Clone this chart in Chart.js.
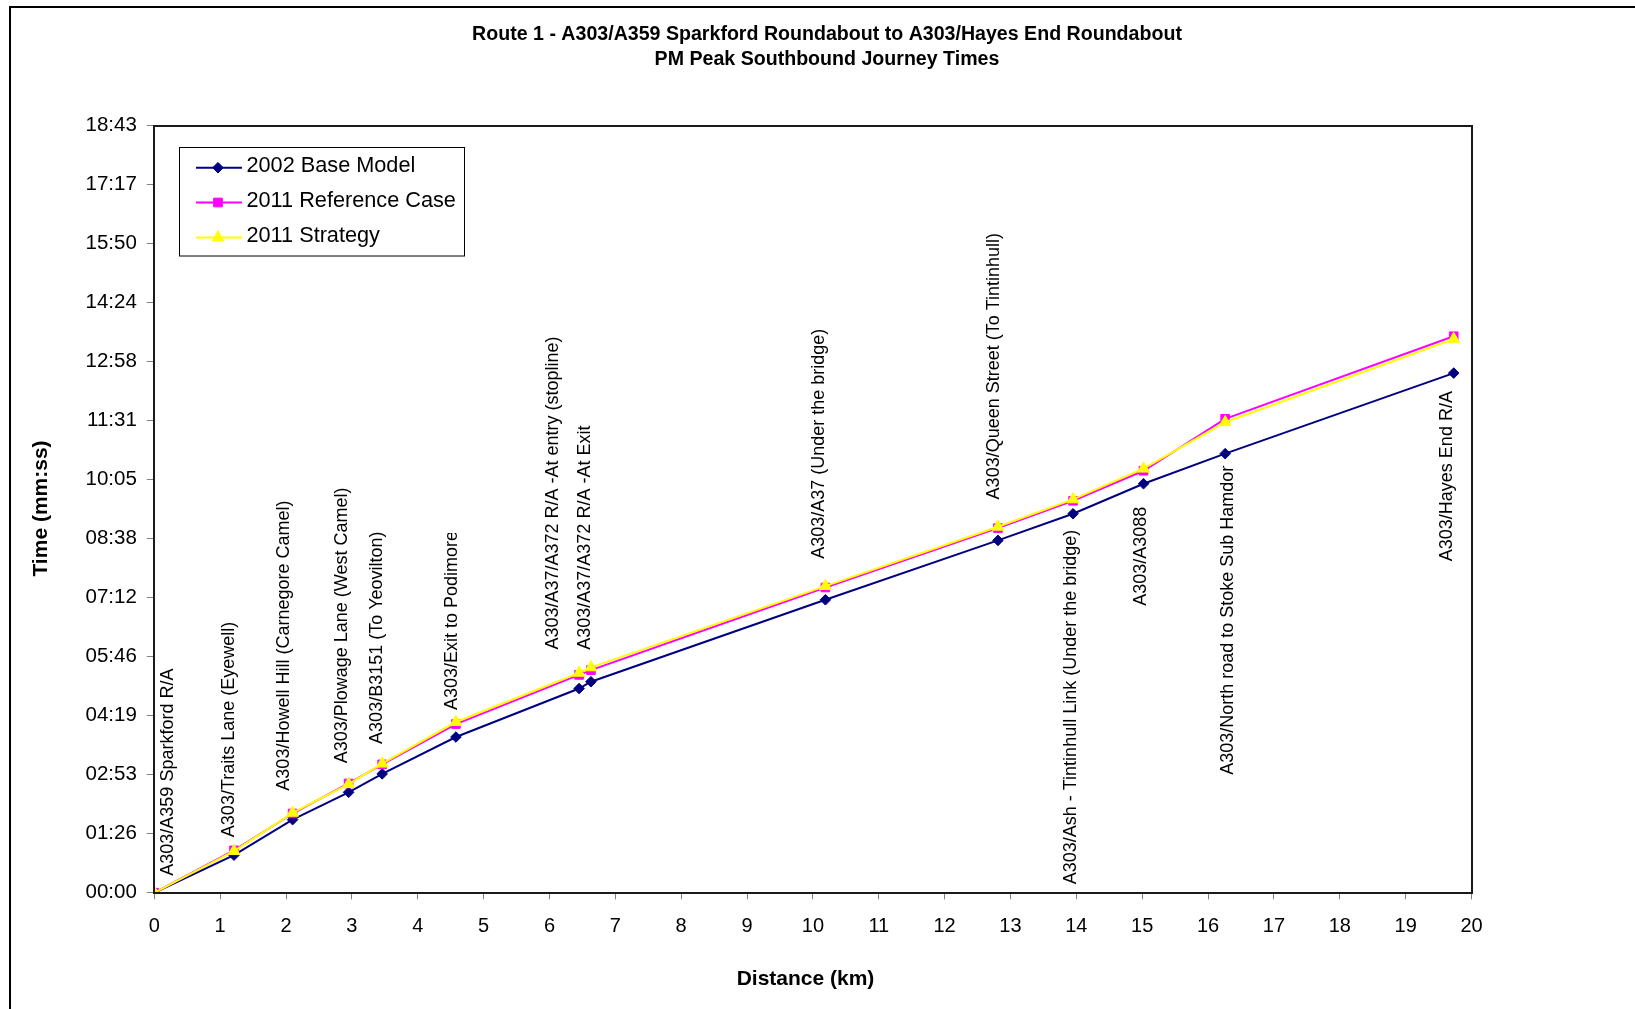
<!DOCTYPE html>
<html><head><meta charset="utf-8">
<script src="https://cdn.jsdelivr.net/npm/chart.js@4.4.0/dist/chart.umd.min.js"></script>
<style>html,body{margin:0;padding:0;background:#fff;} #wrap{width:1635px;height:1009px;position:relative;overflow:hidden;}</style>
</head><body><div id="wrap"><canvas id="c" width="1635" height="1009"></canvas></div>
<script>
// ---------------- DATA ----------------
const chartTitle = ['Route 1 - A303/A359 Sparkford Roundabout to A303/Hayes End Roundabout', 'PM Peak Southbound Journey Times'];
const xAxisTitle = 'Distance (km)';
const yAxisTitle = 'Time (mm:ss)';
const seriesNames = ['2002 Base Model', '2011 Reference Case', '2011 Strategy'];
const locations = [
  'A303/A359 Sparkford R/A',
  'A303/Traits Lane (Eyewell)',
  'A303/Howell Hill (Carnegore Camel)',
  'A303/Plowage Lane (West Camel)',
  'A303/B3151 (To Yeovilton)',
  'A303/Exit to Podimore',
  'A303/A37/A372 R/A -At entry (stopline)',
  'A303/A37/A372 R/A -At Exit',
  'A303/A37 (Under the bridge)',
  'A303/Queen Street (To Tintinhull)',
  'A303/Ash - Tintinhull Link (Under the bridge)',
  'A303/A3088',
  'A303/North road to Stoke Sub Hamdon',
  'A303/Hayes End R/A'
];
const distanceKm = [0, 1.21, 2.10, 2.95, 3.46, 4.58, 6.45, 6.63, 10.19, 12.81, 13.95, 15.02, 16.26, 19.73];
// journey times in seconds
const baseModel2002     = [0, 55, 107, 147, 174, 228, 299, 309, 429, 516, 555, 599, 643, 761];
const referenceCase2011 = [0, 62, 116, 160, 188, 247, 319, 326, 447, 534, 574, 618, 694, 815];
const strategy2011      = [0, 61, 117, 159, 189, 250, 322, 330, 449, 536, 576, 621, 689, 811];
const yTickLabels = ['00:00','01:26','02:53','04:19','05:46','07:12','08:38','10:05','11:31','12:58','14:24','15:50','17:17','18:43'];
const xTickLabels = ['0','1','2','3','4','5','6','7','8','9','10','11','12','13','14','15','16','17','18','19','20'];

// ---------------- LAYOUT / STYLE ----------------
const yStepSeconds = 86.4;           // 0.001 day major unit
const FONT = "'Liberation Sans', Arial, sans-serif";
const colors = ['#000080', '#FF00FF', '#FFFF00'];
const pointStyles = ['rectRot', 'rect', 'triangle'];
const pointRadii = [5.3, 6.1, 6.8];
// data-label placement: side relative to the base-model point, horizontal shift px, gap px, max visible length px
const labelPlacement = [
  ['above', 14, 17, 0], ['above', -5, 18, 0], ['above', -9, 29, 0], ['above', -7, 29, 0],
  ['above', -5, 30, 0], ['above', -4, 27, 177], ['above', -26, 39, 0], ['above', -6, 32, 0],
  ['above', -6, 41, 0], ['above', -4, 41, 0], ['below', -2, 16, 0], ['below', -2, 23, 0],
  ['below', 3, 8, 309], ['below', -7, 18, 0]
];

const datasets = [baseModel2002, referenceCase2011, strategy2011].map((vals, s) => ({
  label: seriesNames[s],
  data: distanceKm.map((d, i) => ({x: d, y: vals[i]})),
  borderColor: colors[s],
  backgroundColor: colors[s],
  borderWidth: 2,
  pointStyle: pointStyles[s],
  pointRadius: pointRadii[s],
  pointHoverRadius: pointRadii[s],
  pointBorderWidth: 1,
  pointBorderColor: colors[s],
  pointBackgroundColor: colors[s],
  tension: 0,
  order: 3 - s
}));

function drawMarker(ctx, style, r, x, y) {
  ctx.save();
  ctx.beginPath();
  if (style === 'rectRot') {
    ctx.moveTo(x - r, y); ctx.lineTo(x, y - r); ctx.lineTo(x + r, y); ctx.lineTo(x, y + r); ctx.closePath();
  } else if (style === 'rect') {
    const h = Math.SQRT1_2 * r;
    ctx.rect(x - h, y - h, 2 * h, 2 * h);
  } else {
    ctx.moveTo(x, y - r);
    ctx.lineTo(x + r * Math.sin(2 * Math.PI / 3), y - r * Math.cos(2 * Math.PI / 3));
    ctx.lineTo(x + r * Math.sin(4 * Math.PI / 3), y - r * Math.cos(4 * Math.PI / 3));
    ctx.closePath();
  }
  ctx.fill(); ctx.stroke();
  ctx.restore();
}

const decor = {
  id: 'decor',
  afterDatasetsDraw(chart) {
    const ctx = chart.ctx;
    const xs = chart.scales.x, ys = chart.scales.y;
    ctx.save();
    ctx.fillStyle = '#000';
    ctx.font = '18px ' + FONT;
    ctx.textBaseline = 'middle';
    locations.forEach((txt, i) => {
      const [side, dx, gap, maxLen] = labelPlacement[i];
      const px = xs.getPixelForValue(distanceKm[i]) + dx;
      const py = ys.getPixelForValue(baseModel2002[i]);
      ctx.save();
      ctx.translate(px, side === 'above' ? py - gap : py + gap);
      ctx.rotate(-Math.PI / 2);
      const w = ctx.measureText(txt).width;
      if (maxLen) {
        ctx.beginPath();
        if (side === 'above') ctx.rect(0, -15, maxLen, 30);
        else ctx.rect(-w, -15, maxLen, 30);
        ctx.clip();
      }
      ctx.textAlign = side === 'above' ? 'left' : 'right';
      ctx.fillText(txt, 0, 0);
      ctx.restore();
    });
    ctx.restore();
  },
  afterDraw(chart) {
    const ctx = chart.ctx, ca = chart.chartArea;
    ctx.save();
    // outer border
    ctx.strokeStyle = '#000';
    ctx.lineWidth = 2;
    ctx.beginPath();
    ctx.moveTo(10, 1100); ctx.lineTo(10, 7); ctx.lineTo(1700, 7);
    ctx.stroke();
    // plot frame
    ctx.strokeStyle = '#1a1a1a';
    ctx.lineWidth = 2;
    ctx.strokeRect(Math.round(ca.left), Math.round(ca.top), Math.round(ca.right) - Math.round(ca.left), Math.round(ca.bottom) - Math.round(ca.top));
    // title
    ctx.fillStyle = '#000';
    ctx.textAlign = 'center';
    ctx.textBaseline = 'alphabetic';
    ctx.font = 'bold 19.6px ' + FONT;
    ctx.fillText(chartTitle[0], 827, 39.5);
    ctx.fillText(chartTitle[1], 827, 65);
    // axis titles
    ctx.font = 'bold 21px ' + FONT;
    ctx.fillText(xAxisTitle, 805.5, 985);
    ctx.save();
    ctx.translate(46.5, 508.5);
    ctx.rotate(-Math.PI / 2);
    ctx.fillText(yAxisTitle, 0, 0);
    ctx.restore();
    // legend
    ctx.fillStyle = '#fff';
    ctx.fillRect(179.5, 147.5, 285, 108.5);
    ctx.strokeStyle = '#000';
    ctx.lineWidth = 1;
    ctx.strokeRect(179.5, 147.5, 285, 108.5);
    ctx.font = '21.7px ' + FONT;
    ctx.textAlign = 'left';
    const rowY = [167.7, 202.5, 237.5];
    seriesNames.forEach((name, s) => {
      const y = rowY[s];
      ctx.strokeStyle = colors[s];
      ctx.lineWidth = 2;
      ctx.beginPath(); ctx.moveTo(196, y); ctx.lineTo(242, y); ctx.stroke();
      ctx.fillStyle = colors[s];
      ctx.lineWidth = 1;
      drawMarker(ctx, pointStyles[s], pointRadii[s], 218, y);
      ctx.fillStyle = '#000';
      ctx.fillText(name, 246.5, y + 4.5);
    });
    ctx.restore();
  }
};

new Chart(document.getElementById('c'), {
  type: 'line',
  data: { datasets },
  options: {
    responsive: false,
    devicePixelRatio: 1,
    animation: false,
    events: [],
    layout: { padding: { left: 0, top: 125.8, right: 163.5, bottom: 0 }, autoPadding: false },
    plugins: { legend: { display: false }, tooltip: { enabled: false }, title: { display: false } },
    scales: {
      x: {
        type: 'linear', min: 0, max: 20,
        afterFit(scale) { scale.height = 1009 - 892.7; },
        afterBuildTicks(scale) { scale.ticks = xTickLabels.map((_, i) => ({ value: i })); },
        ticks: { callback: (v, i) => xTickLabels[i], font: { family: FONT, size: 20 }, color: '#000', padding: 15, maxRotation: 0, autoSkip: false },
        grid: { drawOnChartArea: false, drawTicks: true, tickLength: 6.6, color: '#808080', lineWidth: 1 },
        border: { display: false }
      },
      y: {
        type: 'linear', min: 0, max: yStepSeconds * (yTickLabels.length - 1),
        afterFit(scale) { scale.width = 154.3; },
        afterBuildTicks(scale) { scale.ticks = yTickLabels.map((_, i) => ({ value: i * yStepSeconds })); },
        ticks: { callback: (v, i) => yTickLabels[i], font: { family: FONT, size: 20.5 }, color: '#000', padding: 10, autoSkip: false },
        grid: { drawOnChartArea: false, drawTicks: true, tickLength: 7.5, color: '#808080', lineWidth: 1 },
        border: { display: false }
      }
    }
  },
  plugins: [decor]
});
</script>
</body></html>
